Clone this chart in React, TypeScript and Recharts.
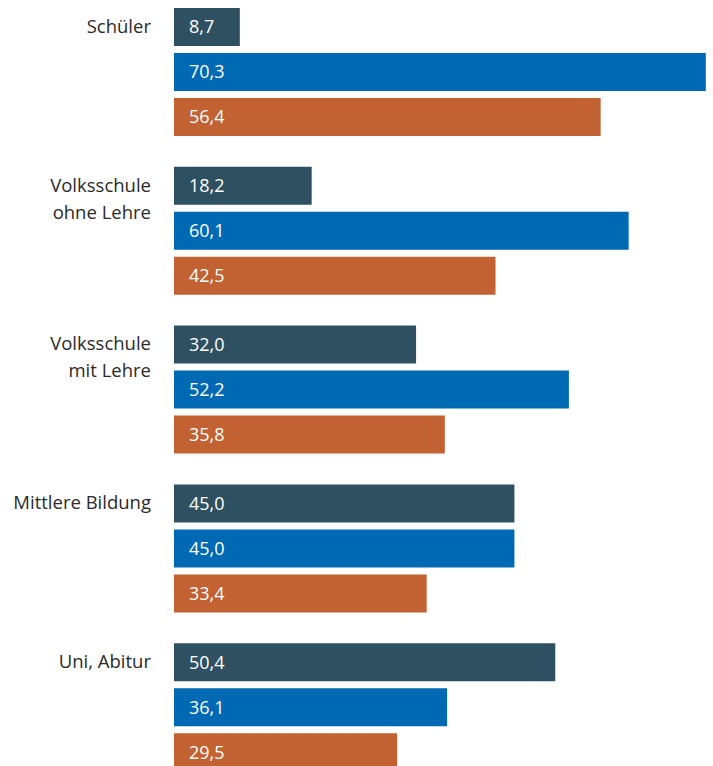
import React from 'react';
import { BarChart, Bar, XAxis, YAxis, LabelList } from 'recharts';

const categories = ['Schüler', 'Volksschule\nohne Lehre', 'Volksschule\nmit Lehre', 'Mittlere Bildung', 'Uni, Abitur'];
const seriesA = [8.7, 18.2, 32.0, 45.0, 50.4];
const seriesB = [70.3, 60.1, 52.2, 45.0, 36.1];
const seriesC = [56.4, 42.5, 35.8, 33.4, 29.5];

const data = categories.map((c, i) => ({ name: c, a: seriesA[i], b: seriesB[i], c: seriesC[i] }));

const FONT = '"Open Sans", "Noto Sans", sans-serif';
const fmt = (v: any) => Number(v).toFixed(1).replace('.', ',');

const CategoryTick = (props: any) => {
  const { y, payload } = props;
  const lines = String(payload.value).split('\n');
  return (
    <g>
      {lines.map((l, i) => (
        <text key={i} x={151} y={y - 46 + i * 27} dy="0.35em" textAnchor="end" fill="#2a2a2a" fontSize={18.5} fontFamily={FONT}>
          {l}
        </text>
      ))}
    </g>
  );
};

export default function App() {
  return (
    <div style={{ position: 'absolute', top: 0, left: 0, width: 713, height: 766, overflow: 'hidden', background: '#fff' }}>
      <div style={{ position: 'absolute', top: -7, left: 0 }}>
        <BarChart width={713} height={801} data={data} layout="vertical" margin={{ top: 0, right: 0, bottom: 7, left: 0 }} barSize={38} barGap={7}>
          <XAxis type="number" domain={[0, 71.25]} hide />
          <YAxis type="category" dataKey="name" width={174} axisLine={false} tickLine={false} tick={<CategoryTick />} interval={0} />
          <Bar dataKey="a" fill="#2f5060" isAnimationActive={false}>
            <LabelList dataKey="a" position="insideLeft" offset={15} formatter={fmt} fill="#ffffff" fontSize={18} fontFamily={FONT} />
          </Bar>
          <Bar dataKey="b" fill="#0069b4" isAnimationActive={false}>
            <LabelList dataKey="b" position="insideLeft" offset={15} formatter={fmt} fill="#ffffff" fontSize={18} fontFamily={FONT} />
          </Bar>
          <Bar dataKey="c" fill="#c26131" isAnimationActive={false}>
            <LabelList dataKey="c" position="insideLeft" offset={15} formatter={fmt} fill="#ffffff" fontSize={18} fontFamily={FONT} />
          </Bar>
        </BarChart>
      </div>
    </div>
  );
}
